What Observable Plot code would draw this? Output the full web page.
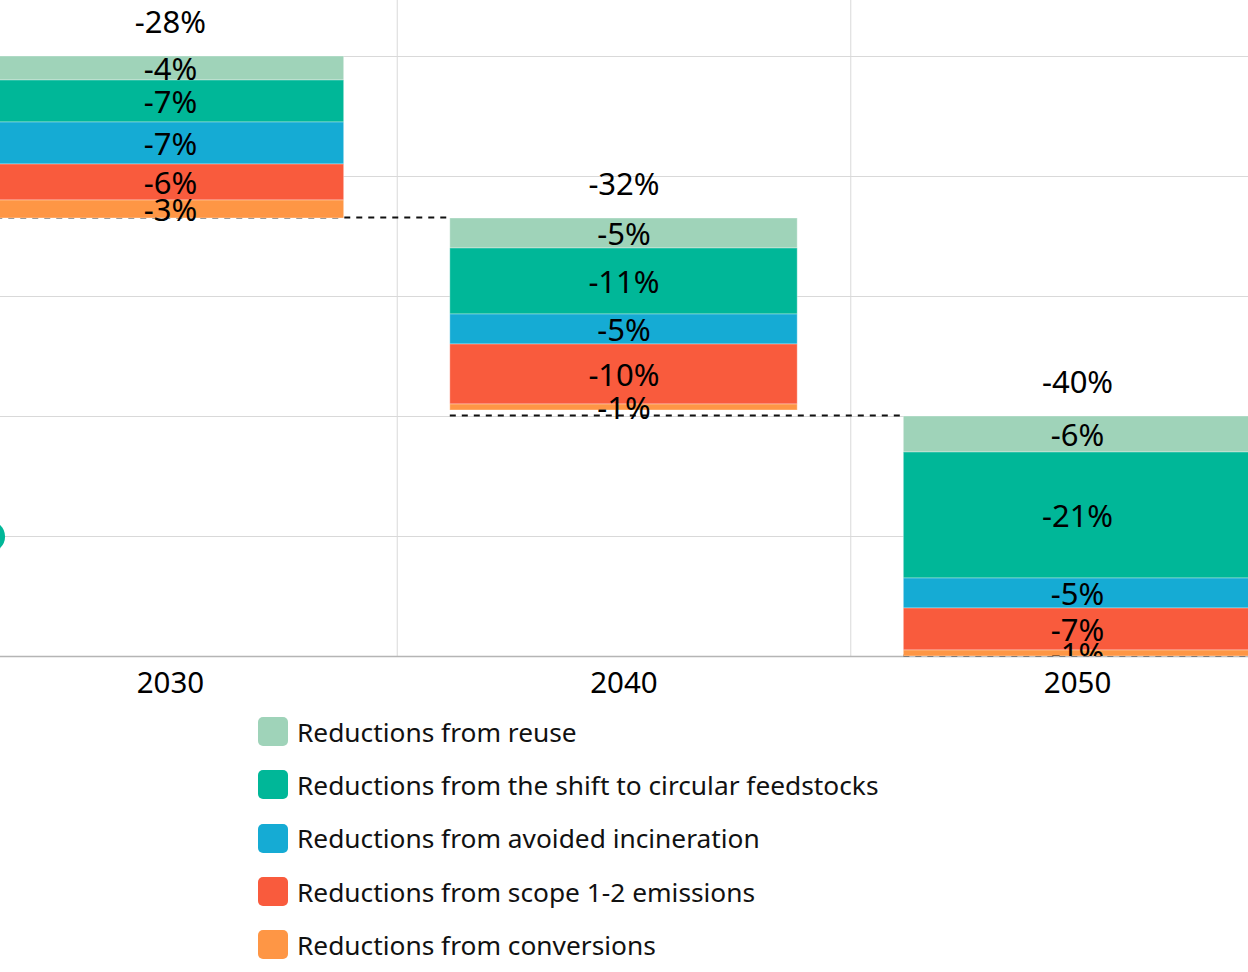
<!DOCTYPE html>
<html>
<head>
<meta charset="utf-8">
<script src="https://cdn.jsdelivr.net/npm/d3@7"></script>
<script src="https://cdn.jsdelivr.net/npm/@observablehq/plot@0.6"></script>
<style>
  html, body { margin: 0; padding: 0; background: #fff; overflow: hidden; }
  body { width: 1248px; font-family: "Noto Sans", sans-serif; }
  #legend { margin-left: 258px; }
  .row { display: flex; align-items: center; height: 53.3px; font-size: 26.3px; color: #111; }
  .sw { width: 30px; height: 29px; border-radius: 5px; margin-right: 9px; flex: none; }
</style>
</head>
<body>
<div id="chart"></div>
<div id="legend"></div>
<script>
// Reduction pathway: each year's bar steps down from the previous level
const years = [2030, 2040, 2050];
const categories = [
  "Reductions from reuse",
  "Reductions from the shift to circular feedstocks",
  "Reductions from avoided incineration",
  "Reductions from scope 1-2 emissions",
  "Reductions from conversions"
];
const colors = ["#9fd3b9", "#00b798", "#15abd4", "#f95b3d", "#fe9645"];

// Reduction (percentage points) per category, one value per year
const reuse        = [4, 5, 6];
const feedstocks   = [7, 11, 21];
const incineration = [7, 5, 5];
const scope12      = [6, 10, 7];
const conversions  = [3, 1, 1];

const totals  = [-28, -32, -40];   // labelled total reduction per year
const barTops = [100, 73, 40];     // level each year's bar starts from

// Marker on the 20% line at the left edge
const markerPoint = [{year: 2026, value: 20}];

const series = [reuse, feedstocks, incineration, scope12, conversions];

// Build stacked segments, hanging down from each bar's top
const segments = [];
years.forEach((year, i) => {
  let level = barTops[i];
  series.forEach((vals, k) => {
    const v = vals[i];
    segments.push({year, category: categories[k], top: level, bottom: level - v, value: v});
    level -= v;
  });
});

const halfBar = 3.83;   // half bar width, in years
const step = 10;

// Dashed connectors from one bar to the next, at the next bar's start level
const connectors = years.map((year, i) => {
  const end = barTops[i] - series.reduce((s, vals) => s + vals[i], 0);
  return {x1: year - halfBar, x2: year + step - halfBar, level: i < years.length - 1 ? barTops[i + 1] : end};
});

const totalsData = years.map((year, i) => ({year, top: barTops[i], label: `${totals[i]}%`}));

const chart = Plot.plot({
  width: 1248,
  height: 705,
  marginTop: 0,
  marginRight: 0,
  marginBottom: 49,
  marginLeft: 0,
  style: {fontFamily: "'Noto Sans', sans-serif", fontSize: "30px", background: "#fff", color: "#000"},
  x: {domain: [2025, 2055], range: [-56.8, 1303.8]},
  y: {domain: [0, 120], range: [656, -64], axis: null},
  color: {domain: categories, range: colors},
  marks: [
    Plot.gridY([20, 40, 60, 80, 100], {stroke: "#d9d9d9", strokeOpacity: 1, strokeWidth: 1}),
    Plot.gridX([2035, 2045], {stroke: "#d9d9d9", strokeOpacity: 1, strokeWidth: 1}),
    Plot.ruleY([0], {stroke: "#b5b5b5", strokeWidth: 1.5}),
    Plot.ruleY(connectors, {x1: "x1", x2: "x2", y: "level", dy: -1, stroke: "#111", strokeWidth: 2, strokeDasharray: "6,6"}),
    Plot.rect(segments, {
      x1: d => d.year - halfBar,
      x2: d => d.year + halfBar,
      y1: "top",
      y2: "bottom",
      fill: "category",
      stroke: "#fff",
      strokeOpacity: 0.35,
      strokeWidth: 1
    }),
    Plot.text(segments, {
      x: "year",
      y: d => (d.top + d.bottom) / 2,
      dy: 2,
      text: d => `-${d.value}%`,
      fontSize: 31,
      fill: "#000",
      clip: "frame"
    }),
    Plot.text(totalsData, {x: "year", y: "top", dy: -33, text: "label", fontSize: 31, fill: "#000"}),
    Plot.dot(markerPoint, {x: "year", y: "value", r: 16, fill: "#00b798", stroke: "none"}),
    Plot.axisX({
      ticks: years,
      tickFormat: d => String(d),
      tickSize: 0,
      tickPadding: 16,
      fontSize: 29.5,
      fill: "#000"
    })
  ]
});
document.getElementById("chart").append(chart);

// Legend below the plot
const legend = d3.select("#legend");
categories.forEach((name, k) => {
  const row = legend.append("div").attr("class", "row");
  row.append("div").attr("class", "sw").style("background", colors[k]);
  row.append("span").text(name);
});
</script>
</body>
</html>
